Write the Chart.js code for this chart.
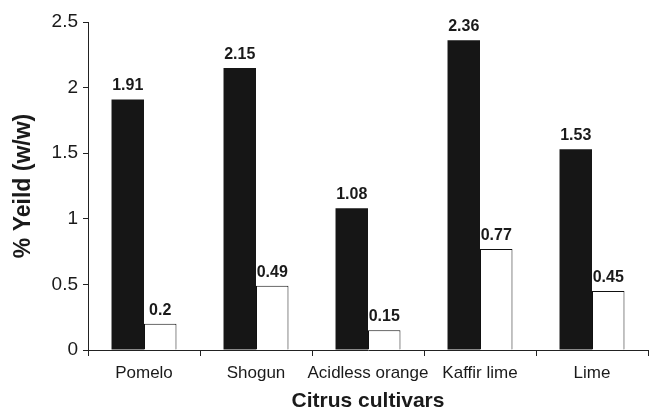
<!DOCTYPE html>
<html>
<head>
<meta charset="utf-8">
<script src="https://cdn.jsdelivr.net/npm/chart.js@4/dist/chart.umd.min.js"></script>
<style>
  html, body { margin: 0; padding: 0; background: #fff; }
  #wrap { width: 650px; height: 410px; }
</style>
</head>
<body>
<div id="wrap"><canvas id="Chart" width="650" height="410"></canvas></div>
<script>
  // data
  var cultivars = ['Pomelo', 'Shogun', 'Acidless orange', 'Kaffir lime', 'Lime'];
  var darkBars = [1.91, 2.15, 1.08, 2.36, 1.53];
  var lightBars = [0.2, 0.49, 0.15, 0.77, 0.45];
  var yTicks = [0, 0.5, 1, 1.5, 2, 2.5];

  var font = '"Liberation Sans", Arial, sans-serif';
  var ink = '#1a1a1a';

  // bold value over each bar
  var valueLabels = {
    id: 'valueLabels',
    afterDatasetsDraw: function(chart) {
      var ctx = chart.ctx;
      ctx.save();
      ctx.font = 'bold 16px ' + font;
      ctx.fillStyle = ink;
      ctx.textAlign = 'center';
      ctx.textBaseline = 'alphabetic';
      chart.data.datasets.forEach(function(ds, i) {
        chart.getDatasetMeta(i).data.forEach(function(bar, j) {
          ctx.fillText(String(ds.data[j]), bar.x, bar.y - 9);
        });
      });
      ctx.restore();
    }
  };

  const chart = document.getElementById('Chart').getContext('2d');
  const yieldChart = new Chart(chart, {
    type: 'bar',
    data: {
      labels: cultivars,
      datasets: [{
        data: darkBars,
        backgroundColor: '#161616',
        borderColor: '#161616',
        borderWidth: 0
      }, {
        data: lightBars,
        backgroundColor: '#ffffff',
        borderColor: '#111111',
        borderWidth: 1
      }]
    },
    options: {
      responsive: false,
      animation: false,
      devicePixelRatio: 1,
      categoryPercentage: 0.58,
      barPercentage: 1,
      layout: { padding: { top: 22, right: 2, left: 0, bottom: 0 } },
      plugins: {
        legend: { display: false },
        tooltip: { enabled: false }
      },
      scales: {
        x: {
          grid: { drawOnChartArea: false, tickLength: 6, color: '#222', offset: true },
          border: { color: '#222', width: 1 },
          ticks: {
            color: ink,
            font: { family: font, size: 17 },
            padding: 7,
            maxRotation: 0,
            autoSkip: false
          },
          title: {
            display: true,
            text: 'Citrus cultivars',
            color: ink,
            font: { family: font, size: 21, weight: 'bold', lineHeight: 0.8 },
            padding: { top: 0, bottom: 0 }
          },
          afterFit: function(scale) { scale.height = 60; }
        },
        y: {
          min: 0,
          max: 2.5,
          afterBuildTicks: function(scale) {
            scale.ticks = yTicks.map(function(v) { return { value: v }; });
          },
          grid: { drawOnChartArea: false, tickLength: 5, color: '#222' },
          border: { color: '#222', width: 1 },
          ticks: {
            color: ink,
            font: { family: font, size: 19 },
            padding: 5,
            callback: function(v) { return String(v); }
          },
          title: {
            display: true,
            text: '% Yeild (w/w)',
            color: ink,
            font: { family: font, size: 23, weight: 'bold', lineHeight: 1.2 },
            padding: { top: 10, bottom: 0 }
          },
          afterFit: function(scale) { scale.width = 88; }
        }
      }
    },
    plugins: [valueLabels]
  });
</script>
</body>
</html>
